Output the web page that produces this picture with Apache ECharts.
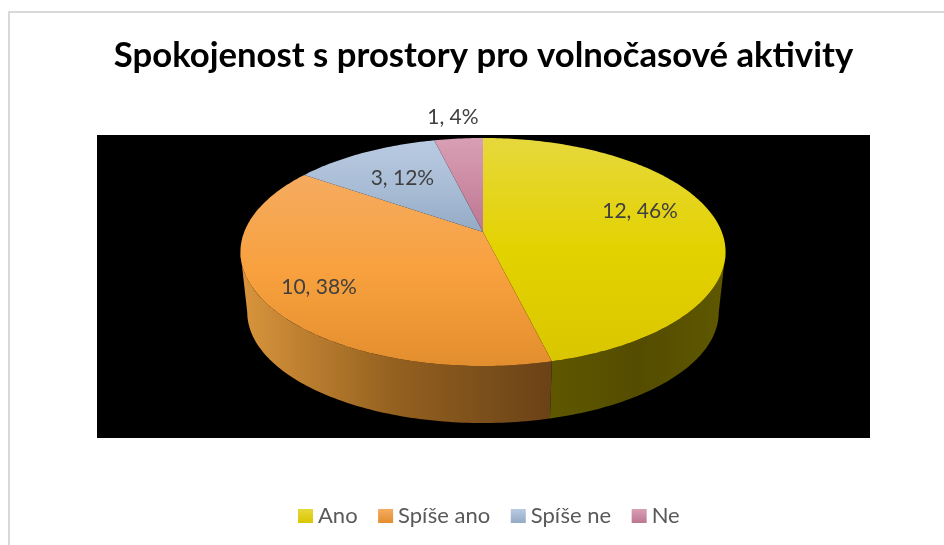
<!DOCTYPE html>
<html>
<head>
<meta charset="utf-8">
<title>Spokojenost s prostory pro volnočasové aktivity</title>
<script src="https://cdn.jsdelivr.net/npm/echarts@6/dist/echarts.min.js"></script>
<style>
  html, body { margin: 0; padding: 0; background: #fff; }
  #chart { width: 944px; height: 545px; }
</style>
</head>
<body>
<div id="chart"></div>
<script>
const chartTitle = 'Spokojenost s prostory pro volnočasové aktivity'
const categories = ['Ano', 'Spíše ano', 'Spíše ne', 'Ne']
const values = [12, 10, 3, 1]

const FONT = 'Lato, "Open Sans", sans-serif'
const total = values.reduce((a, b) => a + b, 0)

// colours of the top face, light to dark, and of the rim (left to right)
const topStops = [
  ['#e6d83c', '#e3d200', '#dac600'],
  ['#f5ab60', '#f8a13e', '#e38e2e'],
  ['#b9cbe2', '#a9bdd6', '#94aac5'],
  ['#d89fb4', '#cc8ba3', '#bd7691']
]
const sideStops = [
  ['#5f5800', '#544c00', '#5f5800'],
  ['#d9953c', '#93601f', '#6a4217'],
  ['#7a8a9e', '#7a8a9e', '#7a8a9e'],
  ['#8a5a6c', '#8a5a6c', '#8a5a6c']
]
// label placement along each slice's middle radius
const labelRadius = [0.672, 0.77, 0.65, 1.28]
const labelShiftY = [-12, 3, 0, 0]

// tilted disc drawn in perspective
const P = 0.1754
const topDisc = { cx: 483, cy: 232, ax: 238.8, by: 110.5 }
const rimDisc = { cx: 483, cy: 292.8, ax: 232.1, by: 107.4 }
const HIDDEN = Math.asin(P) * 180 / Math.PI

function project(disc, deg, r) {
  const t = deg * Math.PI / 180
  const a = Math.sin(t) * r
  const b = -Math.cos(t) * r
  const k = 1 - P * b
  return [disc.cx + disc.ax * a / k, disc.cy + disc.by * b / k]
}

function rimPoints(disc, from, to) {
  const pts = []
  const n = Math.max(2, Math.ceil(Math.abs(to - from)))
  for (let i = 0; i <= n; i++) pts.push(project(disc, from + (to - from) * i / n, 1))
  return pts
}

function gradient(x, y, x2, y2, cols) {
  return new echarts.graphic.LinearGradient(x, y, x2, y2, [
    { offset: 0, color: cols[0] },
    { offset: 0.5, color: cols[1] },
    { offset: 1, color: cols[2] }
  ], true)
}

function renderSlice(idx) {
  return function (params, api) {
    const before = values.slice(0, idx).reduce((a, b) => a + b, 0)
    const start = before / total * 360
    const end = (before + api.value(0)) / total * 360
    const children = []

    // visible part of the rim
    const s = Math.max(start, 90 + HIDDEN)
    const e = Math.min(end, 270 - HIDDEN)
    if (e > s) {
      const upper = rimPoints(topDisc, s, e)
      const lower = rimPoints(rimDisc, e, s)
      const xs = upper.concat(lower).map(p => p[0])
      children.push({
        type: 'polygon',
        shape: { points: upper.concat(lower) },
        style: { fill: gradient(Math.min(...xs), 0, Math.max(...xs), 0, sideStops[idx]) }
      })
    }

    // top face
    const face = [[topDisc.cx, topDisc.cy]].concat(rimPoints(topDisc, start, end))
    const ys = face.map(p => p[1])
    children.push({
      type: 'polygon',
      shape: { points: face },
      style: { fill: gradient(0, Math.min(...ys), 0, Math.max(...ys), topStops[idx]) }
    })

    // data label
    const pos = project(topDisc, (start + end) / 2, labelRadius[idx])
    const pct = Math.round(api.value(0) / total * 100)
    children.push({
      type: 'text',
      z2: 10,
      style: {
        text: api.value(0) + ', ' + pct + '%',
        x: pos[0],
        y: pos[1] + labelShiftY[idx],
        align: 'center',
        verticalAlign: 'middle',
        fontFamily: FONT,
        fontSize: 21,
        fill: '#404040'
      }
    })
    return { type: 'group', children }
  }
}

const myChart = echarts.init(document.getElementById('chart'))
myChart.setOption({
  backgroundColor: '#fff',
  animation: false,
  title: {
    text: chartTitle,
    left: 478.5,
    top: 33,
    textAlign: 'center',
    textStyle: { fontFamily: FONT, fontSize: 34.7, fontWeight: 'bold', color: '#000' }
  },
  legend: {
    left: 293,
    top: 500,
    icon: 'rect',
    itemWidth: 15,
    itemHeight: 14,
    itemGap: 20.5,
    data: categories,
    textStyle: { fontFamily: FONT, fontSize: 22, color: '#595959' }
  },
  graphic: [
    {
      type: 'rect',
      z: -2,
      shape: { x: 9, y: 12, width: 1000, height: 600 },
      style: { fill: '#fff', stroke: '#d9d9d9', lineWidth: 2 }
    },
    {
      type: 'rect',
      z: -1,
      shape: { x: 97, y: 135, width: 773, height: 303 },
      style: { fill: '#000' }
    }
  ],
  series: categories.map((name, i) => ({
    name,
    type: 'custom',
    coordinateSystem: 'none',
    silent: true,
    clip: false,
    itemStyle: {
      color: new echarts.graphic.LinearGradient(0, 0, 0, 1, [
        { offset: 0, color: topStops[i][0] },
        { offset: 1, color: topStops[i][2] }
      ])
    },
    renderItem: renderSlice(i),
    data: [values[i]]
  }))
})
</script>
</body>
</html>
